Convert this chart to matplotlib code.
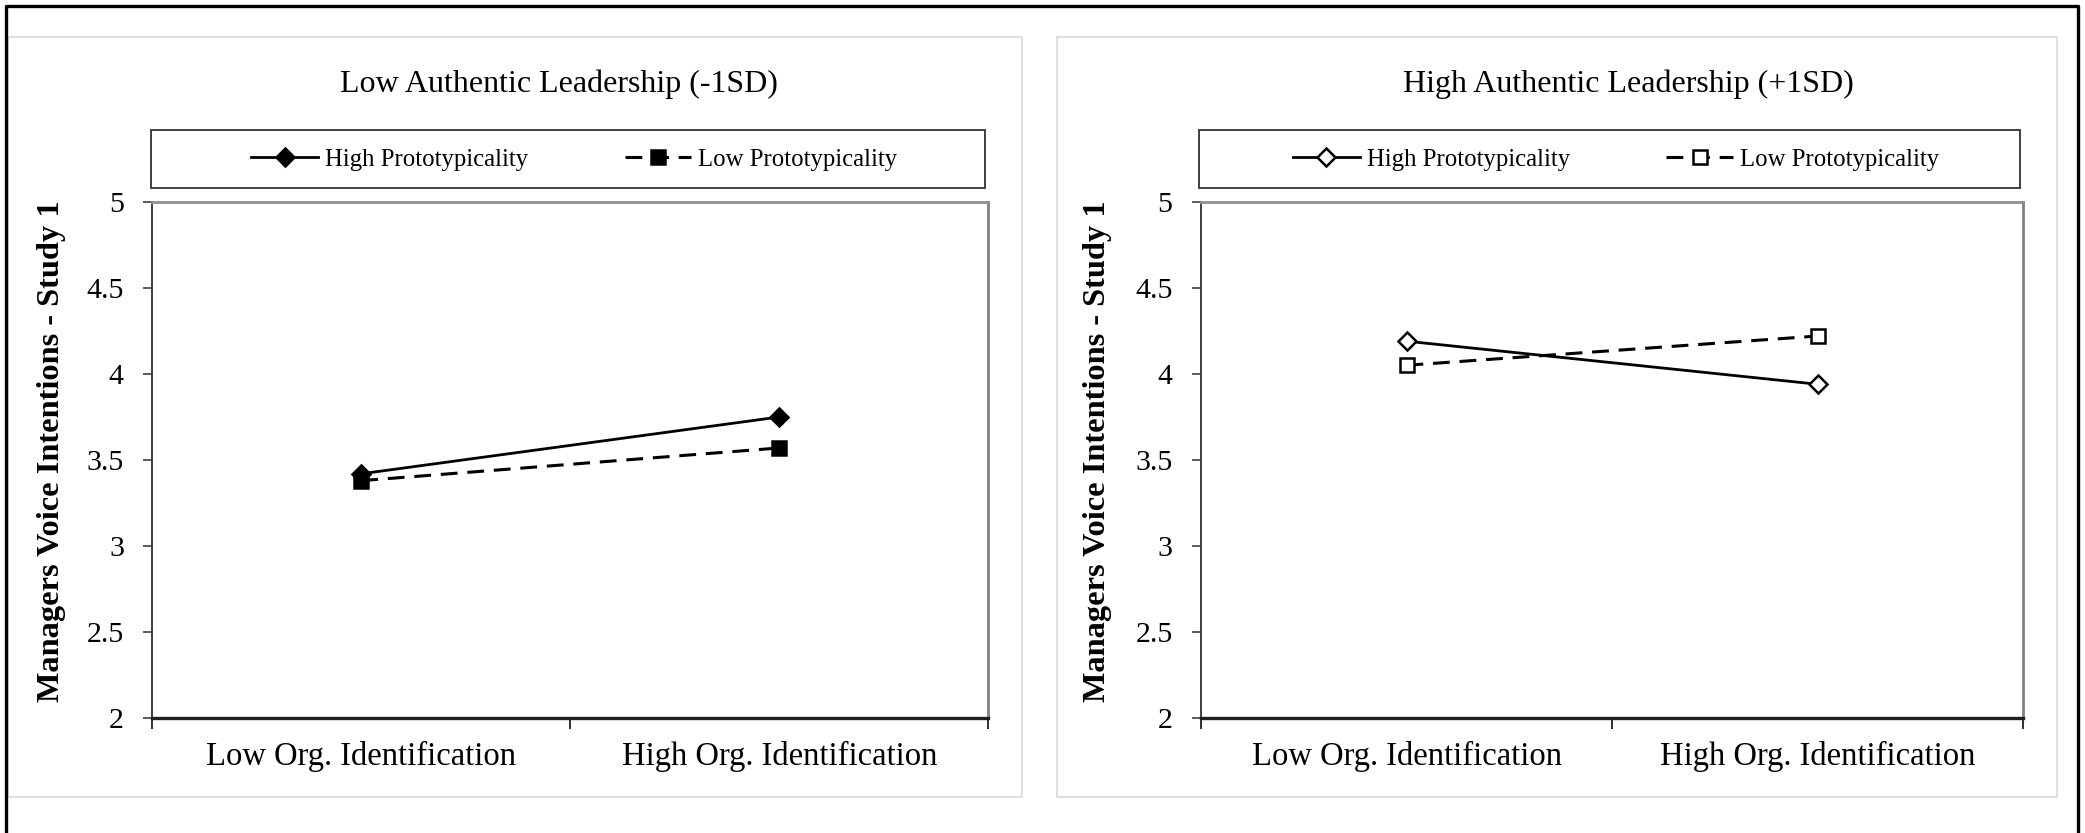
import numpy as np
import matplotlib.pyplot as plt
from matplotlib.patches import Rectangle
from matplotlib.lines import Line2D

plt.rcParams['font.family'] = ['Liberation Serif', 'DejaVu Serif']

# data
categories = ["Low Org. Identification", "High Org. Identification"]
series = ["High Prototypicality", "Low Prototypicality"]
titles = ["Low Authentic Leadership (-1SD)", "High Authentic Leadership (+1SD)"]
low_al_high_proto = [3.42, 3.75]
low_al_low_proto = [3.38, 3.57]
high_al_high_proto = [4.19, 3.94]
high_al_low_proto = [4.05, 4.22]
yticks = [2, 2.5, 3, 3.5, 4, 4.5, 5]
ylabel = "Managers Voice Intentions - Study 1"

W, H = 2085, 833
fig = plt.figure(figsize=(W / 100, H / 100), dpi=100)

def fx(px):
    return px / W

def fy(py):
    return 1 - py / H

# grey panel frames
for x0, x1 in [(8, 1022), (1057, 2057)]:
    fig.patches.append(Rectangle((fx(x0), fy(797)), fx(x1 - x0), (797 - 37) / H,
                                 transform=fig.transFigure, fill=False,
                                 edgecolor='#d9d9d9', lw=1.2, zorder=0))

# outer black frame (left, top, right)
fig.lines.append(Line2D([fx(6), fx(6), fx(2078), fx(2078)],
                        [0, fy(6), fy(6), 0], transform=fig.transFigure,
                        color='black', lw=2.4))

panels = [
    dict(left=152.3, right=988.3, title_x=559, hp=low_al_high_proto,
         lp=low_al_low_proto, face='black', title=titles[0], ylab_x=52),
    dict(left=1201, right=2023, title_x=1628, hp=high_al_high_proto,
         lp=high_al_low_proto, face='white', title=titles[1], ylab_x=1098),
]

top_px, bot_px = 201.7, 718.3
xpos = [0.5, 1.5]

for p in panels:
    ax = fig.add_axes([fx(p['left']), fy(bot_px), fx(p['right'] - p['left']),
                       (bot_px - top_px) / H])
    ax.plot(xpos, p['hp'], color='black', lw=2, marker='D', markersize=9,
            markerfacecolor=p['face'], markeredgecolor='black', mew=1.8,
            label=series[0])
    ax.plot(xpos, p['lp'], color='black', lw=2.2, ls=(0, (5.5, 3.2)), marker='s',
            markersize=10, markerfacecolor=p['face'], markeredgecolor='black',
            mew=1.8, label=series[1])
    ax.set_xlim(0, 2)
    ax.set_ylim(2, 5)
    ax.set_yticks(yticks)
    ax.set_yticklabels(['%g' % v for v in yticks])
    ax.set_xticks([0, 1, 2])
    ax.set_xticklabels([])
    ax.set_xticks(xpos, minor=True)
    ax.set_xticklabels(categories, minor=True)
    ax.tick_params(axis='y', direction='out', length=6.5, width=1.2,
                   labelsize=21.5, pad=14, color='#404040')
    ax.tick_params(axis='x', which='major', direction='out', length=8,
                   width=1.4, color='#303030')
    ax.tick_params(axis='x', which='minor', length=0, labelsize=23.5, pad=16)
    ax.spines['left'].set_color('#404040')
    ax.spines['left'].set_linewidth(1.4)
    ax.spines['bottom'].set_color('#202020')
    ax.spines['bottom'].set_linewidth(2.4)
    ax.spines['top'].set_color('#909090')
    ax.spines['top'].set_linewidth(2.0)
    ax.spines['right'].set_color('#808080')
    ax.spines['right'].set_linewidth(2.0)

    # legend frame drawn above the plot area
    ax.add_patch(Rectangle((-0.002, 1.0265), 0.998, 0.1125,
                           transform=ax.transAxes, fill=False,
                           edgecolor='#404040', lw=1.4, clip_on=False))
    ax.legend(loc='center', bbox_to_anchor=(0.505, 1.081), ncol=2,
              frameon=False, fontsize=17.8, handlelength=2.7,
              handletextpad=0.28, columnspacing=3.9, borderaxespad=0)

    fig.text(fx(p['title_x']), fy(84), p['title'], ha='center', va='center',
             fontsize=23)
    fig.text(fx(p['ylab_x']), fy(451), ylabel, rotation=90, ha='center',
             va='center', fontsize=23.3, fontweight='bold')

fig.savefig('out.png', dpi=100)
